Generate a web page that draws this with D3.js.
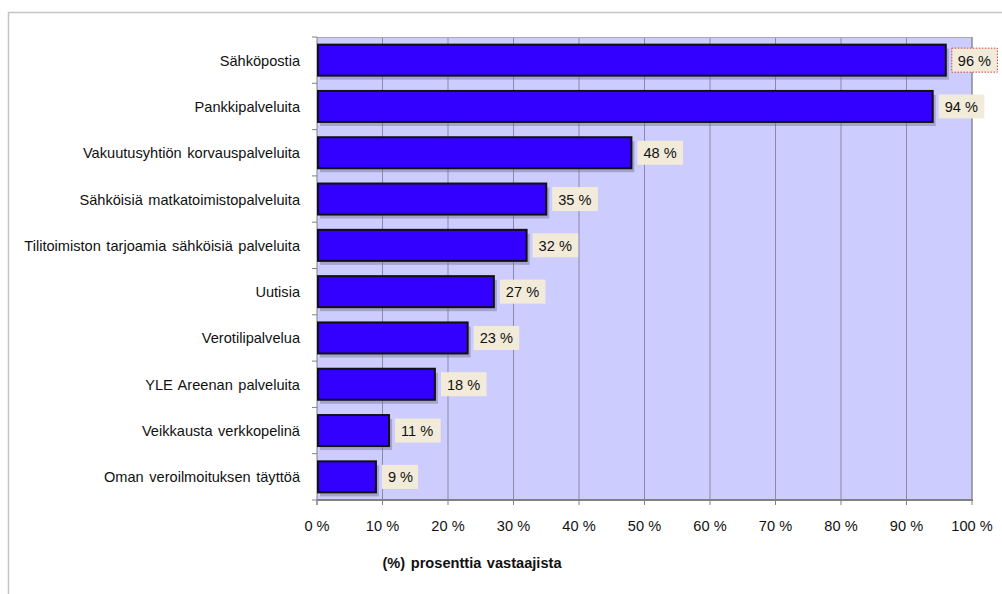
<!DOCTYPE html>
<html><head><meta charset="utf-8">
<script src="https://cdn.jsdelivr.net/npm/d3@7"></script>
<style>body{margin:0;background:#fff}svg{display:block}text{font-family:"Liberation Sans",Arial,sans-serif}</style>
</head><body>
<svg id="c" width="1002" height="594"></svg>
<script>
const categories = ["Sähköpostia","Pankkipalveluita","Vakuutusyhtiön korvauspalveluita","Sähköisiä matkatoimistopalveluita","Tilitoimiston tarjoamia sähköisiä palveluita","Uutisia","Verotilipalvelua","YLE Areenan palveluita","Veikkausta verkkopelinä","Oman veroilmoituksen täyttöä"];
const values = [96,94,48,35,32,27,23,18,11,9];
const valueLabels = ["96 %","94 %","48 %","35 %","32 %","27 %","23 %","18 %","11 %","9 %"];
const xTicks = [0,10,20,30,40,50,60,70,80,90,100];
const xTickLabels = ["0 %","10 %","20 %","30 %","40 %","50 %","60 %","70 %","80 %","90 %","100 %"];
const axisTitle = "(%) prosenttia vastaajista";

const svg = d3.select("#c");
const L=317, R=972, T=37, B=500, FS=14.6;
svg.append("path").attr("d","M8.5,594 V12.5 H1002").attr("fill","none").attr("stroke","#c4c4c4").attr("stroke-width",1.5);

const x = d3.scaleLinear().domain([0,100]).range([L,R]);
const y = d3.scaleBand().domain(categories).range([T,B]).paddingInner(0.33).paddingOuter(0.165);
const yb = d3.scaleBand().domain(categories).range([T,B]);

svg.append("rect").attr("x",L).attr("y",T).attr("width",R-L).attr("height",B-T).attr("fill","#ccccff");
svg.append("g").selectAll("line").data(xTicks.slice(1)).join("line")
  .attr("x1",d=>x(d)).attr("x2",d=>x(d)).attr("y1",T).attr("y2",B)
  .attr("stroke","#8a8aa0").attr("stroke-width",1);
svg.append("line").attr("x1",L).attr("x2",R).attr("y1",T+0.5).attr("y2",T+0.5).attr("stroke","#a8a8b8");
svg.append("line").attr("x1",R).attr("x2",R).attr("y1",T).attr("y2",B).attr("stroke","#888");
svg.append("line").attr("x1",L).attr("x2",R+1).attr("y1",B).attr("y2",B).attr("stroke","#808080").attr("stroke-width",2);
svg.append("line").attr("x1",L).attr("x2",L).attr("y1",T).attr("y2",B+5).attr("stroke","#808080");
svg.append("g").selectAll("line").data(categories).join("line")
  .attr("x1",L-5).attr("x2",L).attr("y1",d=>yb(d)).attr("y2",d=>yb(d)).attr("stroke","#808080");
svg.append("line").attr("x1",L-5).attr("x2",L).attr("y1",B).attr("y2",B).attr("stroke","#808080");
svg.append("g").selectAll("line").data(xTicks).join("line")
  .attr("x1",d=>x(d)).attr("x2",d=>x(d)).attr("y1",B).attr("y2",B+5).attr("stroke","#808080");

const data = categories.map((c,i)=>({c,v:values[i],l:valueLabels[i]}));
svg.append("g").selectAll("rect").data(data).join("rect")
  .attr("x",x(0)+3).attr("y",d=>y(d.c)+4).attr("width",d=>x(d.v)-x(0)).attr("height",y.bandwidth())
  .attr("fill","#707090").attr("opacity",0.45);
svg.append("g").selectAll("rect").data(data).join("rect")
  .attr("x",x(0)+1).attr("y",d=>y(d.c)).attr("width",d=>x(d.v)-x(0)-1).attr("height",y.bandwidth())
  .attr("fill","#3300ff").attr("stroke","#111").attr("stroke-width",2);
const lg = svg.append("g").selectAll("g").data(data).join("g")
  .attr("transform",d=>`translate(${x(d.v)+6},${y(d.c)+y.bandwidth()/2})`);
lg.append("rect").attr("x",0).attr("y",-12).attr("width",d=>d.l.length*9.4+8).attr("height",24)
  .attr("fill","#f3ebd9").attr("stroke",(d,i)=>i===0?"#d04040":"none").attr("stroke-dasharray","1.5,1.5");
lg.append("text").attr("x",6).attr("y",5.5).attr("font-size",FS).attr("fill","#111").text(d=>d.l);
svg.append("g").selectAll("text").data(categories).join("text")
  .attr("x",300).attr("y",d=>y(d)+y.bandwidth()/2+5.5).attr("text-anchor","end")
  .attr("font-size",FS).attr("word-spacing",1.5).attr("fill","#111").text(d=>d);
svg.append("g").selectAll("text").data(xTicks).join("text")
  .attr("x",d=>x(d)).attr("y",531).attr("text-anchor","middle")
  .attr("font-size",FS).attr("fill","#111").text((d,i)=>xTickLabels[i]);
svg.append("text").attr("x",472).attr("y",568).attr("text-anchor","middle")
  .attr("font-size",FS).attr("font-weight","bold").attr("word-spacing",1.5).attr("fill","#111").text(axisTitle);
</script>
</body></html>
